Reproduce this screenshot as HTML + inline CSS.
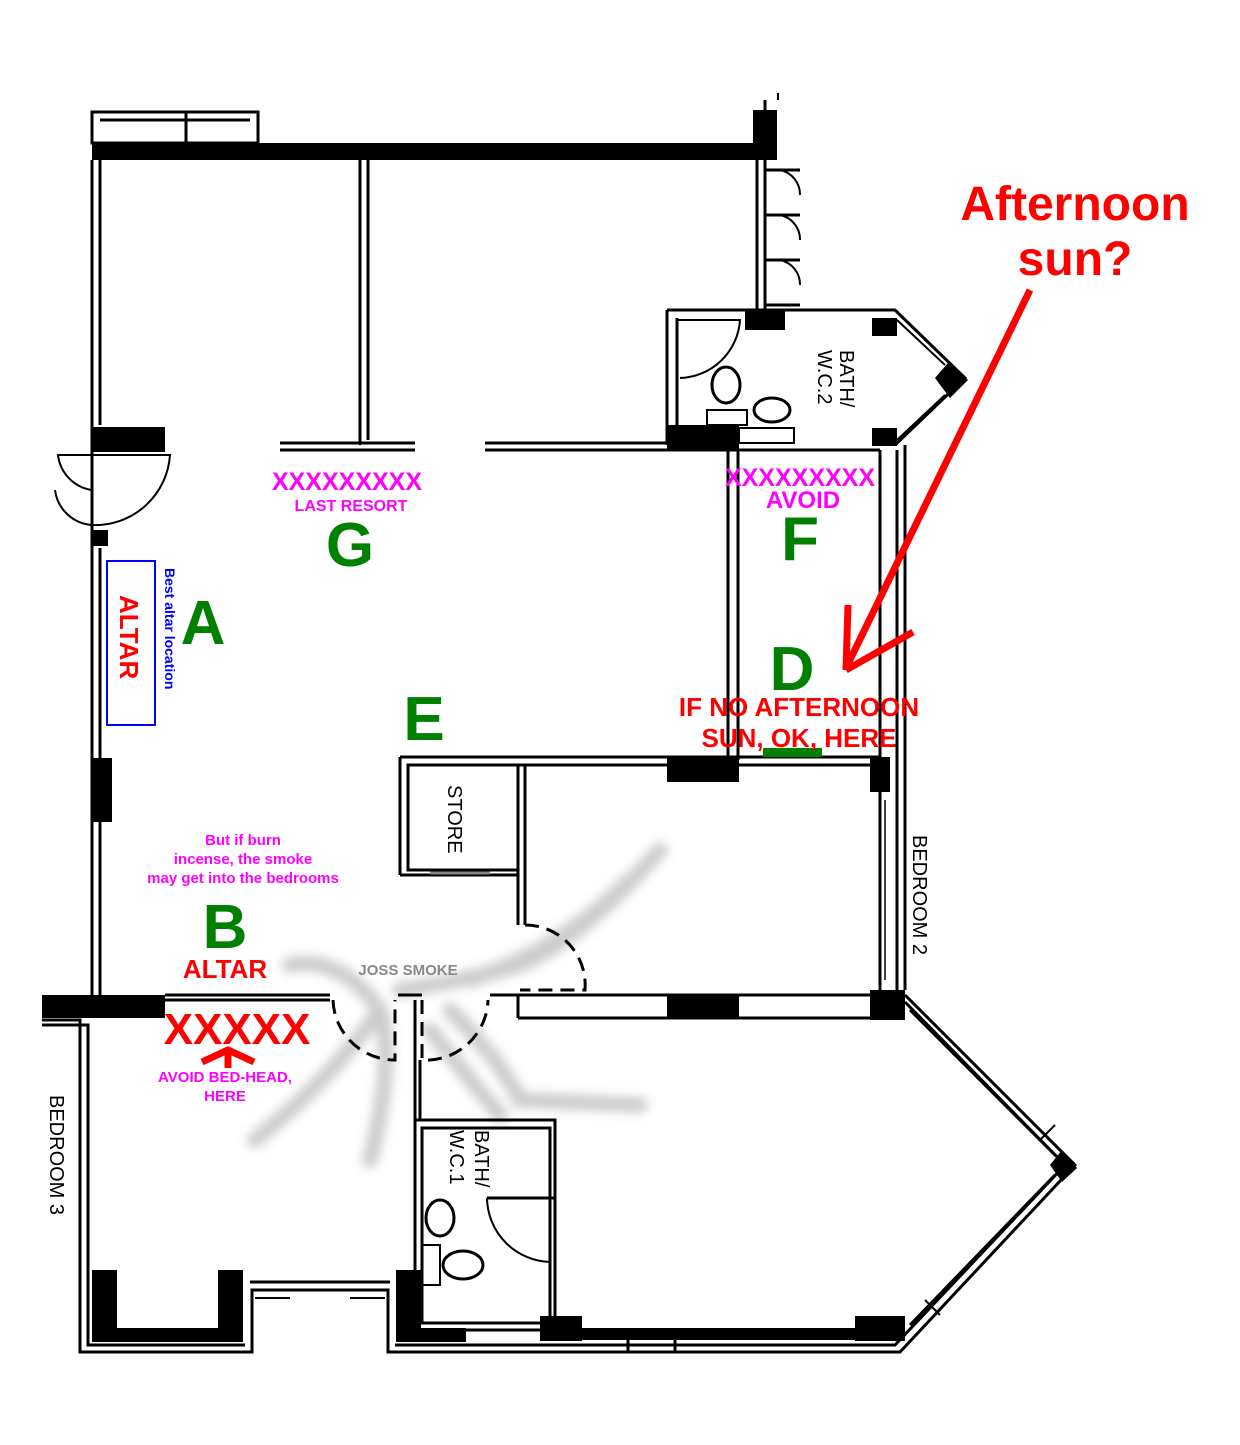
<!DOCTYPE html>
<html><head><meta charset="utf-8"><style>
html,body{margin:0;padding:0;background:#fff}
svg{display:block}
text{font-family:"Liberation Sans",sans-serif;font-weight:bold}
text.n{font-weight:normal}
</style></head><body>
<svg width="1240" height="1445" viewBox="0 0 1240 1445" xmlns="http://www.w3.org/2000/svg">
<defs><filter id="bl"><feGaussianBlur stdDeviation="5"/></filter></defs>
<g stroke="#c8c8c8" stroke-width="16" fill="none" stroke-linecap="round" filter="url(#bl)" opacity="0.9">
<path d="M290 965 Q340 955 380 1010 Q395 1060 370 1160"/>
<path d="M380 1010 Q330 1080 255 1140"/>
<path d="M400 990 Q470 980 520 965 Q580 940 660 850"/>
<path d="M470 980 Q560 950 630 880"/>
<path d="M450 1010 Q500 1060 520 1100 L640 1105"/>
<path d="M430 1030 Q470 1080 500 1115"/>
</g>
<g fill="#000" stroke="none">
<rect x="92" y="143" width="683" height="17"/>
<rect x="753" y="110" width="24" height="50"/>
<rect x="92" y="427" width="73" height="25"/>
<rect x="92" y="530" width="16" height="16"/>
<rect x="92" y="758" width="20" height="64"/>
<rect x="745" y="310" width="40" height="20"/>
<rect x="667" y="425" width="72" height="25"/>
<rect x="872" y="318" width="25" height="18"/>
<rect x="872" y="428" width="25" height="18"/>
<polygon points="935,378 948,363 968,380 950,398"/>
<rect x="667" y="757" width="72" height="25"/>
<rect x="870" y="757" width="20" height="35"/>
<rect x="667" y="995" width="72" height="23"/>
<rect x="870" y="990" width="35" height="30"/>
<rect x="42" y="995" width="123" height="23"/>
<rect x="92" y="1270" width="25" height="72"/>
<rect x="218" y="1270" width="25" height="72"/>
<rect x="92" y="1328" width="150" height="14"/>
<rect x="396" y="1270" width="25" height="72"/>
<rect x="396" y="1328" width="70" height="14"/>
<rect x="540" y="1316" width="42" height="25"/>
<rect x="582" y="1328" width="280" height="12"/>
<rect x="855" y="1316" width="50" height="25"/>
<polygon points="1050,1165 1062,1150 1077,1168 1062,1182"/>
</g>
<g fill="none" stroke="#000" stroke-width="3">
<rect x="92" y="112" width="166" height="31"/>
<line x1="100" y1="120" x2="250" y2="120"/>
<line x1="186" y1="112" x2="186" y2="143"/>
<line x1="92" y1="160" x2="92" y2="1000"/>
<line x1="100" y1="160" x2="100" y2="425"/>
<line x1="100" y1="548" x2="100" y2="995"/>
<line x1="360" y1="160" x2="360" y2="445"/>
<line x1="368" y1="160" x2="368" y2="440"/>
<line x1="280" y1="443" x2="415" y2="443"/>
<line x1="280" y1="450" x2="415" y2="450"/>
<line x1="485" y1="443" x2="667" y2="443"/>
<line x1="485" y1="450" x2="880" y2="450"/>
<line x1="765" y1="100" x2="765" y2="310"/>
<line x1="757" y1="160" x2="757" y2="310"/>
<path d="M765 170 L800 170 M765 215 L800 215 M765 260 L800 260 M765 305 L800 305"/>
<path d="M780 170 A25 25 0 0 1 800 195 M780 215 A25 25 0 0 1 800 240 M780 260 A25 25 0 0 1 800 285" stroke-width="2"/>
<path d="M667 310 L895 310 L965 378 L895 445"/>
<line x1="667" y1="310" x2="667" y2="445"/>
<line x1="677" y1="318" x2="677" y2="425"/>
<path d="M677 320 L740 320 A62 62 0 0 1 680 378" stroke-width="2"/>
<ellipse cx="726" cy="385" rx="14" ry="18"/>
<rect x="707" y="410" width="40" height="15" stroke-width="2"/>
<ellipse cx="772" cy="410" rx="18" ry="12"/>
<rect x="739" y="428" width="55" height="15" stroke-width="2"/>
<path d="M897 320 L945 365 M897 440 L945 395" stroke-width="2"/>
<line x1="880" y1="450" x2="880" y2="1000"/>
<line x1="897" y1="450" x2="897" y2="1000"/>
<line x1="905" y1="445" x2="905" y2="990"/>
<line x1="728" y1="450" x2="728" y2="760"/>
<line x1="738" y1="450" x2="738" y2="760"/>
<line x1="885" y1="800" x2="885" y2="980" stroke-width="1.5"/>
<line x1="400" y1="757" x2="880" y2="757"/>
<line x1="408" y1="765" x2="880" y2="765"/>
<line x1="400" y1="757" x2="400" y2="875"/>
<rect x="408" y="765" width="110" height="105"/>
<line x1="400" y1="875" x2="518" y2="875"/>
<line x1="430" y1="873" x2="490" y2="873" stroke="#888"/>
<line x1="518" y1="765" x2="518" y2="925"/>
<line x1="525" y1="765" x2="525" y2="925"/>
<path d="M525 925 A60 60 0 0 1 585 990 L520 990" stroke-dasharray="14 8"/>
<line x1="490" y1="995" x2="880" y2="995"/>
<line x1="518" y1="1018" x2="880" y2="1018"/>
<line x1="518" y1="995" x2="518" y2="1018"/>
<line x1="165" y1="995" x2="330" y2="995"/>
<line x1="165" y1="1000" x2="330" y2="1000"/>
<path d="M333 1000 A62 62 0 0 0 395 1060 L395 1000" stroke-dasharray="14 8"/>
<path d="M422 1000 L422 1060 A62 62 0 0 0 488 1000" stroke-dasharray="14 8"/>
<line x1="398" y1="995" x2="422" y2="995"/>
<line x1="415" y1="1000" x2="415" y2="1330"/>
<line x1="420" y1="1060" x2="420" y2="1120"/>
<path d="M42 1020 L80 1020 L80 1352 L252 1352 L252 1290 L388 1290 L388 1352 L900 1352 L1075 1165 L905 995"/>
<path d="M42 1025 L88 1025 L88 1345 L245 1345"/>
<line x1="250" y1="1282" x2="390" y2="1282"/>
<path d="M395 1345 L895 1345 L1065 1165 L905 1002"/>
<line x1="910" y1="1325" x2="1055" y2="1175"/>
<line x1="910" y1="1010" x2="1055" y2="1155"/>
<path d="M925 1300 L940 1315 M1040 1140 L1055 1125 M920 1020 L935 1035" stroke-width="2"/>
<rect x="415" y="1120" width="140" height="210"/>
<rect x="422" y="1128" width="128" height="195"/>
<line x1="487" y1="1198" x2="555" y2="1198"/>
<path d="M487 1198 A65 65 0 0 0 550 1262" stroke-width="2"/>
<ellipse cx="440" cy="1218" rx="14" ry="18"/>
<rect x="422" y="1245" width="18" height="40" stroke-width="2"/>
<ellipse cx="463" cy="1265" rx="20" ry="14"/>
<line x1="462" y1="1330" x2="535" y2="1330" stroke-dasharray="12 6"/>
<path d="M255 1298 L290 1298 M350 1298 L385 1298" stroke-width="2"/>
<line x1="628" y1="1332" x2="628" y2="1352"/><line x1="675" y1="1332" x2="675" y2="1352"/>
<path d="M92 455 L170 455 A75 75 0 0 1 92 525 M92 525 A40 40 0 0 1 55 490 M92 455 L58 455 A40 40 0 0 0 92 490" stroke-width="2"/>
</g>
<g font-size="20" fill="#000">
<text class="n" transform="translate(840,350) rotate(90)">BATH/</text>
<text class="n" transform="translate(818,350) rotate(90)">W.C.2</text>
<text class="n" transform="translate(448,785) rotate(90)">STORE</text>
<text class="n" transform="translate(913,835) rotate(90)">BEDROOM 2</text>
<text class="n" transform="translate(50,1095) rotate(90)">BEDROOM 3</text>
<text class="n" transform="translate(475,1130) rotate(90)">BATH/</text>
<text class="n" transform="translate(450,1130) rotate(90)">W.C.1</text>
</g>
<rect x="107" y="561" width="48" height="164" fill="none" stroke="#0000ff" stroke-width="2"/>
<text transform="translate(120,595) rotate(90)" font-size="26" fill="#ff0000">ALTAR</text>
<text transform="translate(165,568) rotate(90)" font-size="14" fill="#0000ff">Best altar location</text>
<g fill="#008000" font-size="62" text-anchor="middle">
<text x="350" y="566">G</text><text x="800" y="560">F</text>
<text x="203" y="644">A</text><text x="792" y="690">D</text>
<text x="424" y="740">E</text><text x="225" y="948">B</text>
</g>
<rect x="763" y="748" width="59" height="9" fill="#008000"/>
<g fill="#ff00ff" text-anchor="middle">
<text x="347" y="490" font-size="25">XXXXXXXXX</text>
<text x="351" y="511" font-size="16">LAST RESORT</text>
<text x="800" y="486" font-size="25">XXXXXXXXX</text>
<text x="803" y="508" font-size="24">AVOID</text>
<text x="243" y="845" font-size="15">But if burn</text>
<text x="243" y="864" font-size="15">incense, the smoke</text>
<text x="243" y="883" font-size="15">may get into the bedrooms</text>
<text x="225" y="1082" font-size="15">AVOID BED-HEAD,</text>
<text x="225" y="1101" font-size="15">HERE</text>
</g>
<g fill="#ff0000" text-anchor="middle">
<text x="1075" y="220" font-size="48">Afternoon</text>
<text x="1075" y="275" font-size="48">sun?</text>
<text x="799" y="716" font-size="26">IF NO AFTERNOON</text>
<text x="799" y="747" font-size="26">SUN, OK, HERE</text>
<text x="225" y="978" font-size="26">ALTAR</text>
<text x="237" y="1044" font-size="44">XXXXX</text>
</g>
<text x="408" y="975" font-size="15" fill="#888" text-anchor="middle">JOSS SMOKE</text>
<g stroke="#ff0000" stroke-width="7" fill="none">
<line x1="1030" y1="290" x2="846" y2="668"/>
<line x1="846" y1="670" x2="848" y2="605"/>
<line x1="846" y1="670" x2="913" y2="632"/>
<path d="M202 1062 L228 1050 L254 1062 M228 1050 L228 1068"/>
</g>
<line x1="778" y1="93" x2="778" y2="100" stroke="#000" stroke-width="2"/>
</svg>
</body></html>
